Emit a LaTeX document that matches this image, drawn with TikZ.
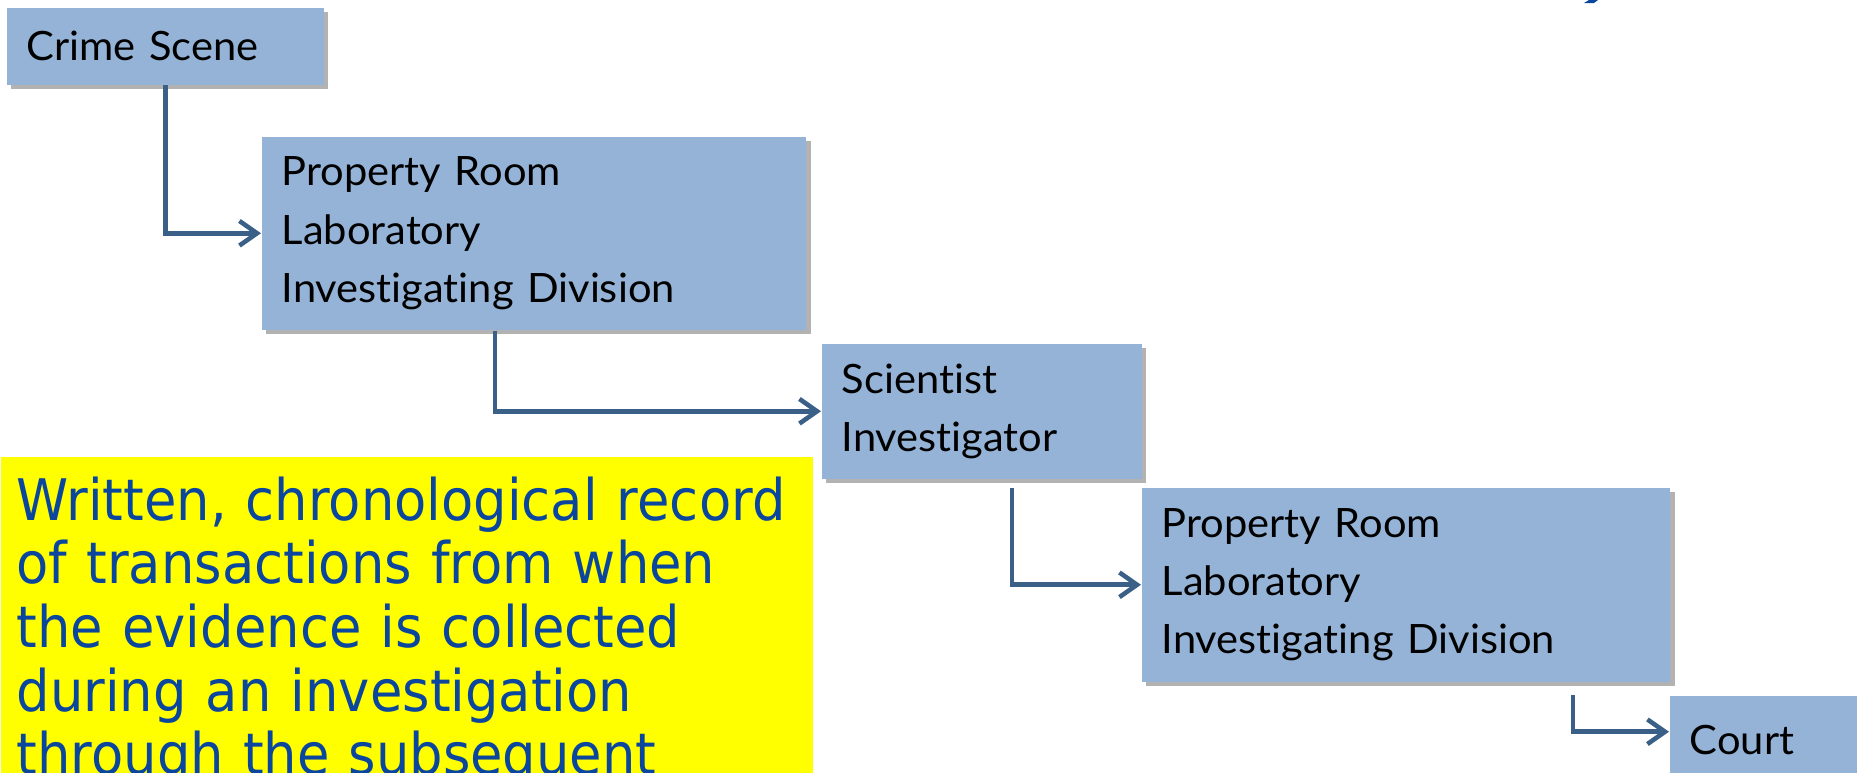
\documentclass[tikz,border=0pt]{standalone}
\usepackage{fontspec}
\setmainfont{Lato}
\newfontfamily\stagefont[Ligatures=NoCommon,FakeStretch=1.03]{Lato}
\newfontfamily\notefont[FakeStretch=0.92]{DejaVu Sans}
\usepackage{xcolor}
\usetikzlibrary{arrows.meta,shadows,positioning}
\definecolor{stageblue}{RGB}{149,179,215}
\definecolor{linkblue}{RGB}{58,96,135}
\definecolor{noteblue}{RGB}{10,70,158}
\definecolor{noteyellow}{RGB}{255,255,0}

\begin{document}
\begin{tikzpicture}[
  x=0.01cm, y=-0.01cm,
  stage/.style={rectangle, fill=stageblue, anchor=north west, inner xsep=0.2cm, inner ysep=0pt, align=left, text=black, font=\stagefont\fontsize{11.5pt}{16.6pt}\selectfont, drop shadow={shadow xshift=0.045cm, shadow yshift=-0.045cm, opacity=0.3, fill=black}},
  note/.style={rectangle, fill=noteyellow, anchor=north west, text width=7.8cm, inner xsep=0.16cm, inner ysep=0.2cm, align=left, text=noteblue, font=\notefont\fontsize{16.3pt}{18.1pt}\selectfont},
  arrow/.style={-{Straight Barb[length=5pt,width=7pt]}, line width=1.3pt, linkblue}
]
\clip (0,0) rectangle (1857,772);

% Custody chain (stepping down to the right)
\node[stage, text width=2.77cm, minimum height=0.77cm] (crime) at (6,7) {Crime Scene};
\node[stage, text width=5.04cm, minimum height=1.93cm] (room1) at (261,136) {Property Room\\ Laboratory\\ Investigating Division};
\node[stage, text width=2.8cm, minimum height=1.35cm] (sci) at (821,343) {Scientist\\ Investigator};
\node[stage, text width=4.88cm, minimum height=1.94cm] (room2) at (1141,487) {Property Room\\ Laboratory\\ Investigating Division};
\node[stage, text width=2.2cm, minimum height=0.88cm] (court) at (1669,695) {Court};

% Definition note
\node[note] (record) at (0,456) {Written, chronological record\\ of transactions from when\\ the evidence is collected\\ during an investigation\\ through the subsequent};

% Arrows - custody hand-offs
\draw[arrow] (crime.south) |- (room1.west);
\draw[arrow] ([xshift=-0.39cm]room1.south) |- (sci.west);
\draw[arrow] ([xshift=0.3cm,yshift=-0.08cm]sci.south) |- (room2.west);
\draw[arrow] ([xshift=1.67cm,yshift=-0.12cm]room2.south) |- ([yshift=0.08cm]court.west);

% Title fragment at top edge
\fill[noteblue] (1584,3) -- (1589,0) -- (1598,0) -- (1594,3) -- cycle;

\end{tikzpicture}
\end{document}
